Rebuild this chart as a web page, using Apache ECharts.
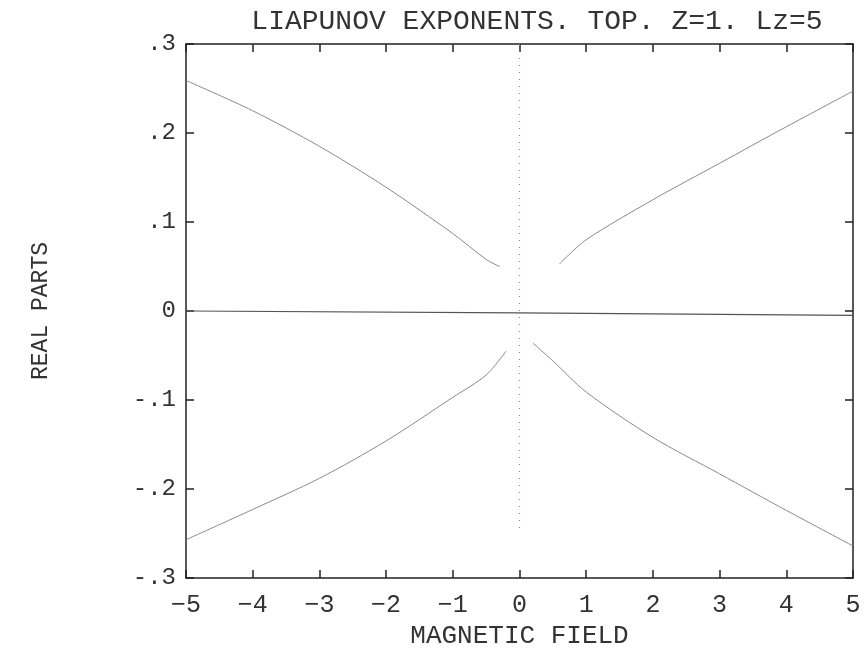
<!DOCTYPE html>
<html>
<head>
<meta charset="utf-8">
<script src="https://cdn.jsdelivr.net/npm/echarts@6/dist/echarts.min.js"></script>
<style>
  html, body { margin: 0; padding: 0; background: #fff; }
  #chart { width: 865px; height: 654px; }
</style>
</head>
<body>
<div id="chart"></div>
<script>
// magnetic field values and real parts
const upperLeftX = [-5, -4, -3, -2, -1, -0.5, -0.3];
const upperLeftY = [0.259, 0.225, 0.185, 0.139, 0.087, 0.058, 0.05];
const upperRightX = [0.6, 1, 2, 3, 4, 5];
const upperRightY = [0.053, 0.08, 0.125, 0.166, 0.207, 0.247];
const lowerLeftX = [-5, -4, -3, -2, -1, -0.5, -0.2];
const lowerLeftY = [-0.257, -0.223, -0.188, -0.146, -0.097, -0.072, -0.045];
const lowerRightX = [0.2, 0.5, 1, 2, 3, 4, 5];
const lowerRightY = [-0.036, -0.056, -0.091, -0.142, -0.183, -0.224, -0.264];
const zeroX = [-5, 0, 5];
const zeroY = [0, -0.002, -0.005];
const centerX = [0, 0];
const centerY = [0.3, -0.245];

const yTickLabels = { '-0.3': '-.3', '-0.2': '-.2', '-0.1': '-.1', '0': '0', '0.1': '.1', '0.2': '.2', '0.3': '.3' };

function pairs(xs, ys) {
  return xs.map((x, i) => [x, ys[i]]);
}

const font = 'Liberation Mono';
const ink = '#333';

var myChart = echarts.init(document.getElementById('chart'));

function lineSeries(xs, ys, extra) {
  return Object.assign({
    type: 'line',
    data: pairs(xs, ys),
    showSymbol: false,
    smooth: 0.3,
    lineStyle: { color: '#8a8a8a', width: 1 },
    silent: true
  }, extra || {});
}

const boxAxis = {
  axisLine: { show: true, onZero: false, lineStyle: { color: '#222', width: 1.5 } },
  axisTick: { show: true, inside: true, length: 8, lineStyle: { color: '#222', width: 1.5 } },
  splitLine: { show: false }
};

const option = {
  animation: false,
  backgroundColor: '#fff',
  title: {
    text: 'LIAPUNOV EXPONENTS. TOP. Z=1. Lz=5',
    left: 532,
    top: 3,
    textAlign: 'center',
    textStyle: { fontFamily: font, fontWeight: 'normal', fontSize: 28, color: ink }
  },
  grid: { left: 186, right: 12, top: 44, bottom: 76 },
  xAxis: [
    Object.assign({
      type: 'value', min: -5, max: 5, interval: 1, position: 'bottom',
      name: 'MAGNETIC FIELD', nameLocation: 'middle', nameGap: 44,
      nameTextStyle: { fontFamily: font, fontSize: 26, color: ink },
      axisLabel: { fontFamily: font, fontSize: 25, color: ink, margin: 15,
        formatter: v => (v < 0 ? '\u2212' + Math.abs(v) : String(v)) }
    }, boxAxis),
    Object.assign({
      type: 'value', min: -5, max: 5, interval: 1, position: 'top',
      axisLabel: { show: false }
    }, boxAxis)
  ],
  yAxis: [
    Object.assign({
      type: 'value', min: -0.3, max: 0.3, interval: 0.1, position: 'left',
      name: 'REAL PARTS', nameLocation: 'middle', nameGap: 134, nameRotate: 90,
      nameTextStyle: { fontFamily: font, fontSize: 23, color: ink },
      axisLabel: { fontFamily: font, fontSize: 24, color: ink, margin: 10,
        formatter: v => yTickLabels[String(Math.round(v * 10) / 10)] || '' }
    }, boxAxis),
    Object.assign({
      type: 'value', min: -0.3, max: 0.3, interval: 0.1, position: 'right',
      axisLabel: { show: false }
    }, boxAxis)
  ],
  series: [
    lineSeries(upperLeftX, upperLeftY),
    lineSeries(upperRightX, upperRightY),
    lineSeries(lowerLeftX, lowerLeftY),
    lineSeries(lowerRightX, lowerRightY),
    lineSeries(zeroX, zeroY, { smooth: false, lineStyle: { color: '#555', width: 1.2 } }),
    lineSeries(centerX, centerY, { smooth: false, lineStyle: { color: '#888', width: 1.2, type: [1, 6] } })
  ]
};

myChart.setOption(option);
</script>
</body>
</html>
